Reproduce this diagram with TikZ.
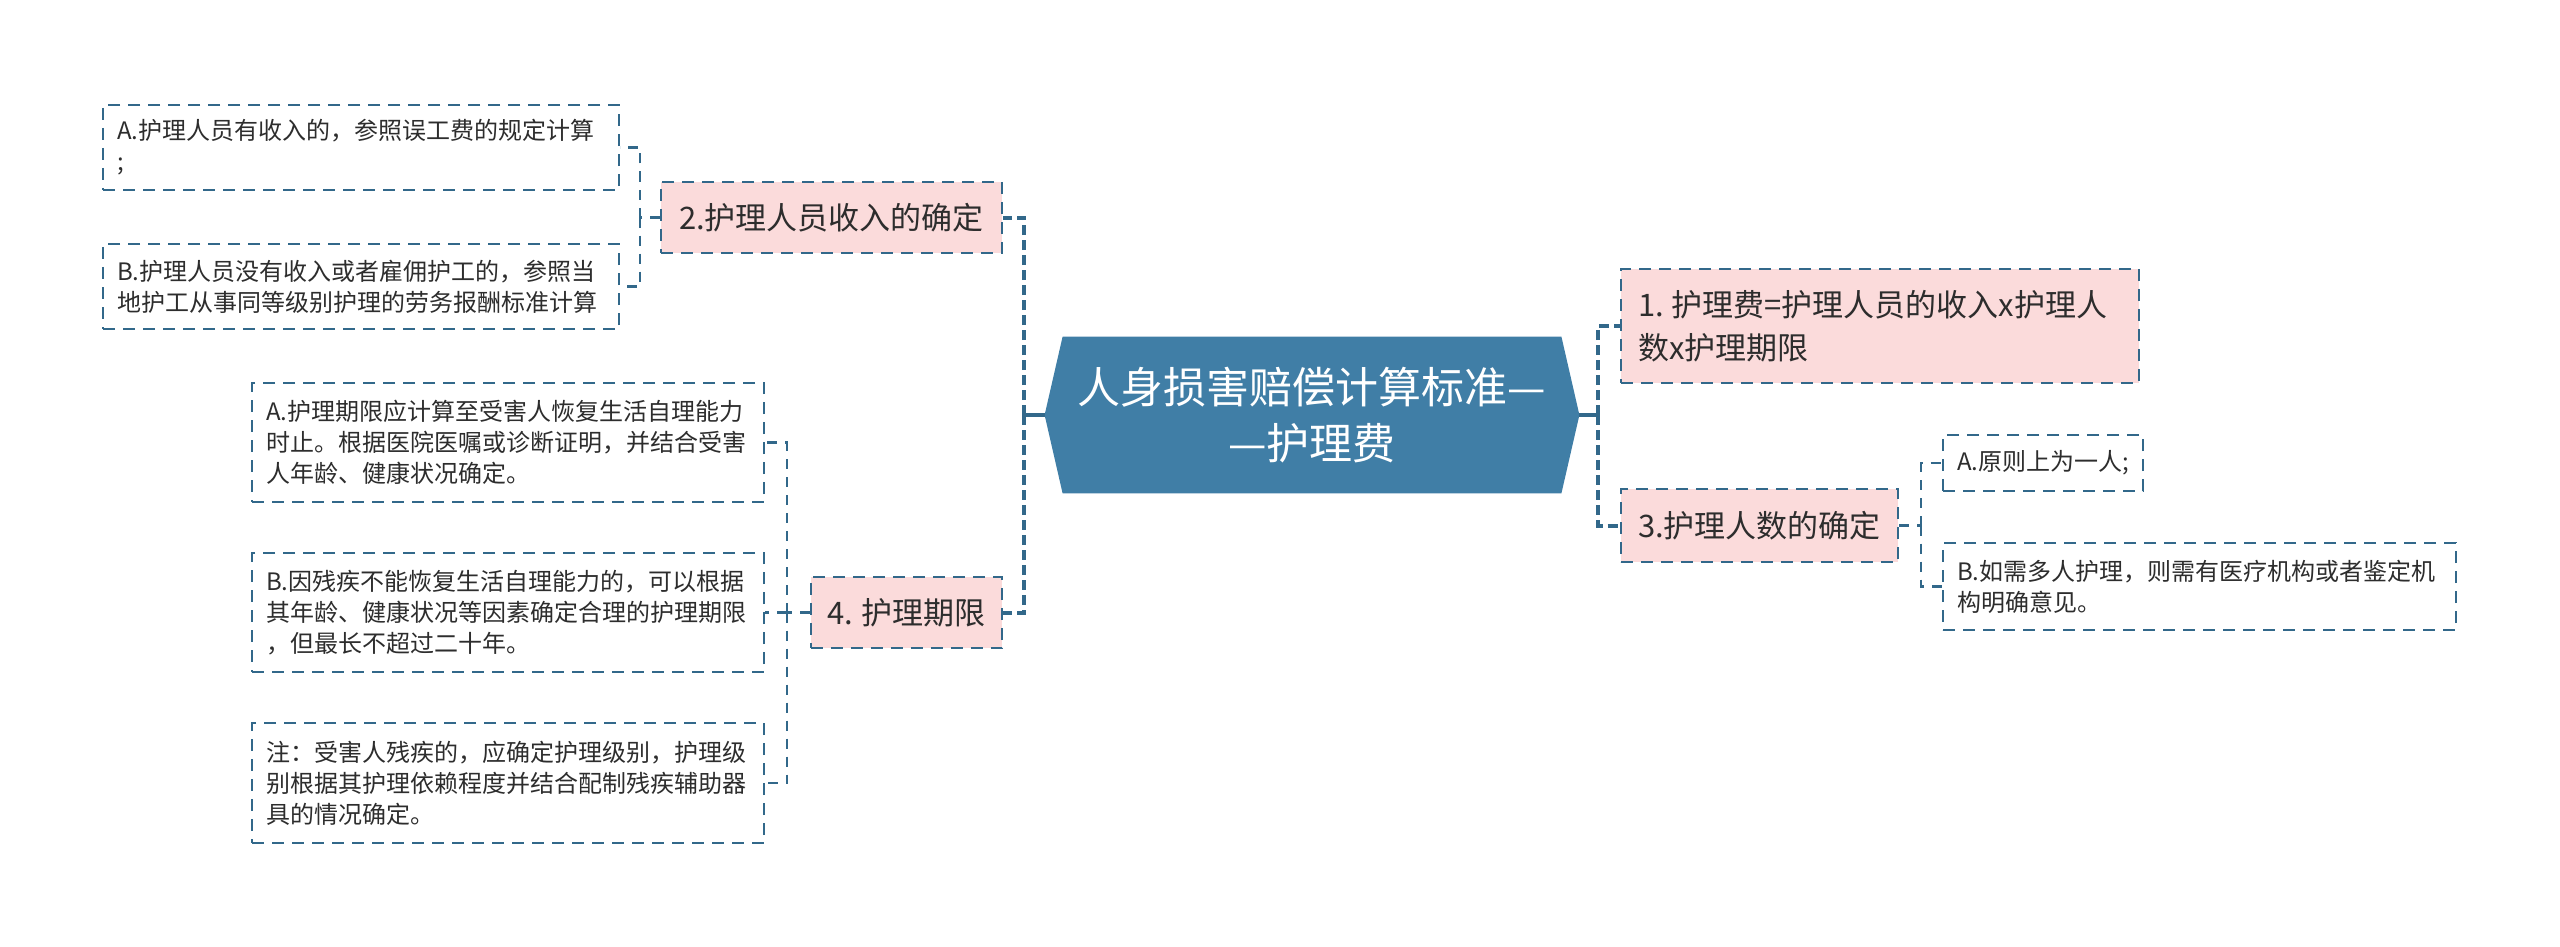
\documentclass[tikz,border=0pt]{standalone}
\usepackage{fontspec}
\setmainfont{Noto Sans CJK SC}
\usetikzlibrary{backgrounds}
\definecolor{hexblue}{RGB}{64,126,166}
\definecolor{linkblue}{RGB}{50,104,138}
\definecolor{pinkfill}{RGB}{251,219,219}
\definecolor{inkgray}{RGB}{45,45,45}

\begin{document}
\begin{tikzpicture}[x=0.5pt, y=-0.5pt,
    topic/.style={text=white, align=center, minimum width=267pt, minimum height=78pt,
        font=\fontsize{21.5pt}{28pt}\selectfont},
    sub/.style={draw=linkblue, fill=pinkfill, text=inkgray, line width=1pt,
        dash pattern=on 6pt off 4pt, minimum height=35.5pt, inner xsep=8.5pt,
        font=\fontsize{15.5pt}{21.5pt}\selectfont},
    leaf/.style={draw=linkblue, fill=white, text=inkgray, line width=1pt,
        dash pattern=on 6pt off 4pt, align=left, inner xsep=7pt, inner ysep=3pt,
        font=\fontsize{12pt}{15.5pt}\selectfont},
    mainlink/.style={linkblue, line width=2pt},
    trunk/.style={linkblue, line width=2pt, dash pattern=on 5pt off 2.5pt},
    twig/.style={linkblue, line width=1.25pt, dash pattern=on 5pt off 4pt}]
    \useasboundingbox (0,0) rectangle (2560,947);

    % 中心主题
    \node[topic] (root) at (1312,415) {人身损害赔偿计算标准—\\—护理费};
    \begin{scope}[on background layer]
        \fill[hexblue] (root.west) -- ([xshift=9pt]root.north west) -- ([xshift=-9pt]root.north east)
            -- (root.east) -- ([xshift=-9pt]root.south east) -- ([xshift=9pt]root.south west) -- cycle;
    \end{scope}

    % 左侧分支
    \node[sub, minimum width=170.5pt] (income) at (831.5,217.5) {2.护理人员收入的确定};
    \node[sub, minimum width=95.5pt] (period) at (906.5,612.5) {4.\hspace{0.25em}护理期限};
    \coordinate (lj) at (1024,415);
    \draw[mainlink] (root.west) -- (lj);
    \draw[trunk] (lj) |- (income.east);
    \draw[trunk] (lj) |- (period.east);

    % 2. 收入的确定
    \node[leaf, text width=244pt, minimum height=42.5pt] (incomeA) at (361,147.5)
        {A.护理人员有收入的，参照误工费的规定计算\\;};
    \node[leaf, text width=244pt, minimum height=42.5pt] (incomeB) at (361,286.5)
        {B.护理人员没有收入或者雇佣护工的，参照当\\地护工从事同等级别护理的劳务报酬标准计算};
    \coordinate (ij) at (640,217.5);
    \draw[twig] (income.west) -- (ij);
    \draw[twig] (ij) |- (incomeA.east);
    \draw[twig] (ij) |- (incomeB.east);

    % 4. 护理期限
    \node[leaf, text width=242pt, minimum height=59.5pt] (periodA) at (508,442.5)
        {A.护理期限应计算至受害人恢复生活自理能力\\时止。根据医院医嘱或诊断证明，并结合受害\\人年龄、健康状况确定。};
    \node[leaf, text width=242pt, minimum height=59.5pt] (periodB) at (508,612.5)
        {B.因残疾不能恢复生活自理能力的，可以根据\\其年龄、健康状况等因素确定合理的护理期限\\，但最长不超过二十年。};
    \node[leaf, text width=242pt, minimum height=60pt] (periodC) at (508,783)
        {注：受害人残疾的，应确定护理级别，护理级\\别根据其护理依赖程度并结合配制残疾辅助器\\具的情况确定。};
    \coordinate (pj) at (787,612.5);
    \draw[twig] (period.west) -- (pj);
    \draw[twig] (pj) |- (periodA.east);
    \draw[twig] (pj) |- (periodB.east);
    \draw[twig] (pj) |- (periodC.east);

    % 右侧分支
    \node[sub, align=left, text width=242pt, minimum height=57pt] (formula) at (1880,326)
        {1.\hspace{0.25em}护理费=护理人员的收入x护理人\\数x护理期限};
    \node[sub, minimum width=138.5pt, minimum height=36.5pt] (count) at (1759.5,525.5) {3.护理人数的确定};
    \coordinate (rj) at (1598,415);
    \draw[mainlink] (root.east) -- (rj);
    \draw[trunk] (rj) |- (formula.west);
    \draw[trunk] (rj) |- (count.west);

    % 3. 人数的确定
    \node[leaf, minimum width=100pt, minimum height=28pt] (countA) at (2043,463) {A.原则上为一人;};
    \node[leaf, text width=242.5pt, minimum height=43.5pt] (countB) at (2199.5,586.5)
        {B.如需多人护理，则需有医疗机构或者鉴定机\\构明确意见。};
    \coordinate (cj) at (1921,525.5);
    \draw[twig] (count.east) -- (cj);
    \draw[twig] (cj) |- (countA.west);
    \draw[twig] (cj) |- (countB.west);
\end{tikzpicture}
\end{document}
